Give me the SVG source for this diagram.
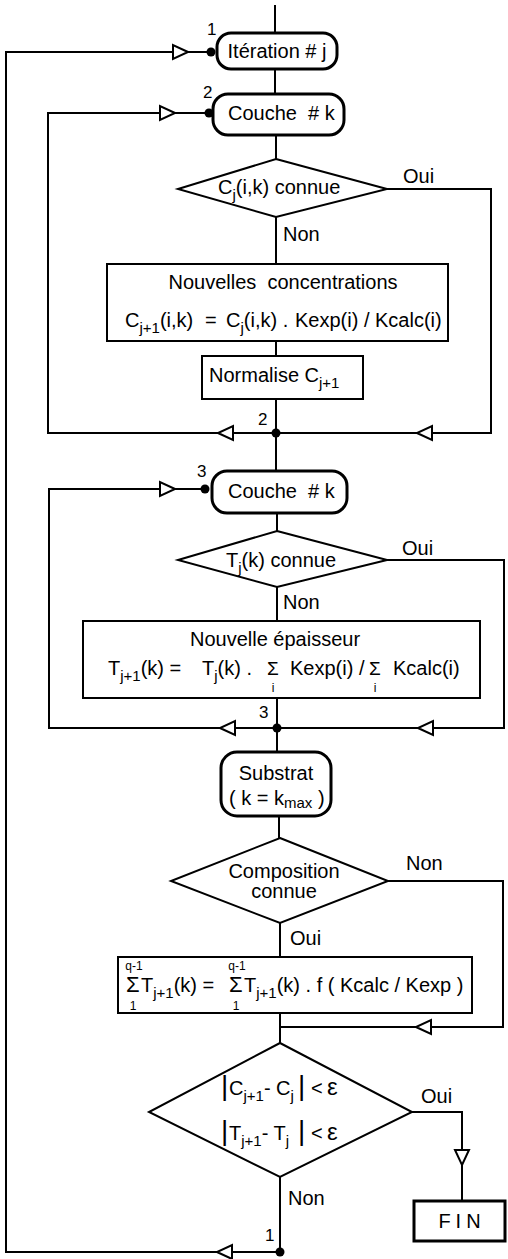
<svg xmlns="http://www.w3.org/2000/svg" xmlns:xlink="http://www.w3.org/1999/xlink" width="508" height="1259" viewBox="0 0 508 1259">
<style>
.t{font-family:"Liberation Sans",Arial,sans-serif;font-size:20px;fill:#000}
.s{font-size:15px}
.sm{font-family:"Liberation Sans",Arial,sans-serif;font-size:12px;fill:#000}
.lbl{font-family:"Liberation Sans",Arial,sans-serif;font-size:17px;fill:#000}
.ln{fill:none;stroke:#000;stroke-width:2}
.box{fill:#fff;stroke:#000;stroke-width:2}
.term{fill:#fff;stroke:#000;stroke-width:3}
.dot{fill:#000}
.tri{fill:#fff;stroke:#000;stroke-width:2;stroke-linejoin:miter}
</style>
<defs>
<path id="tri" class="tri" d="M0,0 L-15,-7 L-15,7 Z"/>
</defs>
<rect width="508" height="1259" fill="#fff"/>

<g id="connectors">
<path class="ln" d="M275,5 V33 M275,69 V94 M276,135 V159 M276,217 V264 M276,341 V356 M276,399 V471 M277,513 V531 M277,587 V621 M277,698 V752 M279,816 V838 M280,923 V957 M280,1013 V1043 M280,1177 V1252"/>
<path class="ln" d="M280,1252 H6 V52 H211"/>
<path class="ln" d="M276,433 H48 V113 H209"/>
<path class="ln" d="M387,189 H491 V433 H276"/>
<path class="ln" d="M277,728 H49 V489 H205"/>
<path class="ln" d="M387,560 H504 V728 H277"/>
<path class="ln" d="M388,881 H503 V1027 H280"/>
<path class="ln" d="M412,1112 H462 V1201"/>
<circle class="dot" cx="211" cy="52" r="4.5"/>
<circle class="dot" cx="209" cy="113" r="4.5"/>
<circle class="dot" cx="276" cy="433" r="4.5"/>
<circle class="dot" cx="205" cy="489" r="4.5"/>
<circle class="dot" cx="277" cy="728" r="4.5"/>
<circle class="dot" cx="280" cy="1252" r="4.5"/>
<use href="#tri" transform="translate(188,52)"/>
<use href="#tri" transform="translate(175,113)"/>
<use href="#tri" transform="translate(218,433) rotate(180)"/>
<use href="#tri" transform="translate(417,433) rotate(180)"/>
<use href="#tri" transform="translate(175,489)"/>
<use href="#tri" transform="translate(220,728) rotate(180)"/>
<use href="#tri" transform="translate(418,728) rotate(180)"/>
<use href="#tri" transform="translate(416,1027) rotate(180)"/>
<use href="#tri" transform="translate(217,1252) rotate(180)"/>
<use href="#tri" transform="translate(462,1165) rotate(90)"/>
<text class="lbl" x="207" y="35">1</text>
<text class="lbl" x="203" y="98">2</text>
<text class="lbl" x="258" y="425">2</text>
<text class="lbl" x="197" y="477">3</text>
<text class="lbl" x="259" y="718">3</text>
<text class="lbl" x="265" y="1241">1</text>
<text class="t" x="403" y="183">Oui</text>
<text class="t" x="283" y="241">Non</text>
<text class="t" x="402" y="555">Oui</text>
<text class="t" x="283" y="609">Non</text>
<text class="t" x="406" y="870">Non</text>
<text class="t" x="290" y="945">Oui</text>
<text class="t" x="421" y="1103">Oui</text>
<text class="t" x="288" y="1205">Non</text>
</g>

<g id="iteration">
<rect class="term" x="217" y="33" width="120" height="36" rx="14" ry="14"/>
<text class="t" x="277" y="58" text-anchor="middle">Itération # j</text>
</g>

<g id="couche2">
<rect class="term" x="213" y="94" width="131" height="41" rx="15" ry="15"/>
<text class="t" x="228" y="120" xml:space="preserve">Couche  # k</text>
</g>

<g id="test-c">
<polygon class="box" points="276,159 387,189 276,217 178,189"/>
<text class="t" x="218" y="194">C<tspan class="s" dy="6">j</tspan><tspan dy="-6">(i,k) connue</tspan></text>
</g>

<g id="nouvelles-concentrations">
<rect class="box" x="107" y="264" width="341" height="77"/>
<text class="t" x="283" y="289" text-anchor="middle" xml:space="preserve">Nouvelles  concentrations</text>
<text class="t" y="327"><tspan x="125">C</tspan><tspan class="s" dy="6">j+1</tspan><tspan dy="-6">(i,k)</tspan><tspan x="205">=</tspan><tspan x="226">C</tspan><tspan class="s" dy="6">j</tspan><tspan dy="-6">(i,k) .</tspan><tspan x="295">Kexp(i) / Kcalc(i)</tspan></text>
</g>

<g id="normalise">
<rect class="box" x="202" y="356" width="161" height="43"/>
<text class="t" x="209" y="382">Normalise C<tspan class="s" dy="6">j+1</tspan></text>
</g>

<g id="couche3">
<rect class="term" x="212" y="471" width="135" height="42" rx="15" ry="15"/>
<text class="t" x="228" y="498" xml:space="preserve">Couche  # k</text>
</g>

<g id="test-t">
<polygon class="box" points="277,531 387,560 277,587 178,560"/>
<text class="t" x="226" y="567">T<tspan class="s" dy="6">j</tspan><tspan dy="-6">(k) connue</tspan></text>
</g>

<g id="nouvelle-epaisseur">
<rect class="box" x="83" y="621" width="397" height="77"/>
<text class="t" x="275" y="646" text-anchor="middle">Nouvelle épaisseur</text>
<text class="t" y="675"><tspan x="108">T</tspan><tspan class="s" dy="6">j+1</tspan><tspan dy="-6">(k) =</tspan><tspan x="202">T</tspan><tspan class="s" dy="6">j</tspan><tspan dy="-6">(k) .</tspan><tspan x="267" font-size="19">Σ</tspan><tspan x="290">Kexp(i) /</tspan><tspan x="369" font-size="19">Σ</tspan><tspan x="393">Kcalc(i)</tspan></text>
<text class="sm" x="273" y="692" text-anchor="middle">i</text>
<text class="sm" x="375" y="692" text-anchor="middle">i</text>
</g>

<g id="substrat">
<rect class="term" x="221" y="752" width="110" height="64" rx="16" ry="16"/>
<text class="t" x="276" y="780" text-anchor="middle">Substrat</text>
<text class="t" y="805"><tspan x="229">( k = k</tspan><tspan class="s" dy="3">max</tspan><tspan dy="-3"> )</tspan></text>
</g>

<g id="test-composition">
<polygon class="box" points="280,838 388,881 280,923 171,881"/>
<text class="t" x="284" y="878" text-anchor="middle">Composition</text>
<text class="t" x="284" y="898" text-anchor="middle">connue</text>
</g>

<g id="somme">
<rect class="box" x="118" y="957" width="354" height="56"/>
<text class="t" y="992"><tspan x="126" font-size="22">Σ</tspan><tspan x="141">T</tspan><tspan class="s" dy="6">j+1</tspan><tspan dy="-6">(k) =</tspan><tspan x="229" font-size="22">Σ</tspan><tspan x="244">T</tspan><tspan class="s" dy="6">j+1</tspan><tspan dy="-6">(k) . f ( Kcalc / Kexp )</tspan></text>
<text class="sm" x="134" y="970" text-anchor="middle">q-1</text>
<text class="sm" x="133" y="1010" text-anchor="middle">1</text>
<text class="sm" x="237" y="970" text-anchor="middle">q-1</text>
<text class="sm" x="236" y="1010" text-anchor="middle">1</text>
</g>

<g id="test-convergence">
<polygon class="box" points="280,1043 412,1112 280,1177 149,1112"/>
<text class="t" y="1095"><tspan x="221" font-size="28">|</tspan><tspan x="229">C</tspan><tspan class="s" dy="6">j+1</tspan><tspan dy="-6">- C</tspan><tspan class="s" dy="6">j</tspan><tspan x="298" dy="-6" font-size="28">|</tspan><tspan x="311">&lt;</tspan><tspan x="327" font-size="24">ε</tspan></text>
<text class="t" y="1140"><tspan x="221" font-size="28">|</tspan><tspan x="229">T</tspan><tspan class="s" dy="6">j+1</tspan><tspan dy="-6">- T</tspan><tspan class="s" dy="6">j</tspan><tspan x="298" dy="-6" font-size="28">|</tspan><tspan x="311">&lt;</tspan><tspan x="327" font-size="24">ε</tspan></text>
</g>

<g id="fin">
<rect x="414" y="1201" width="91" height="40" fill="#fff" stroke="#000" stroke-width="3"/>
<text class="t" x="462" y="1228" text-anchor="middle" letter-spacing="5">FIN</text>
</g>
</svg>
